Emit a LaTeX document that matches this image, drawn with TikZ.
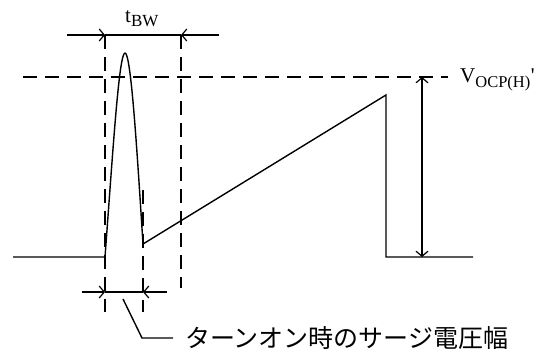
\documentclass[tikz,border=0pt]{standalone}
\usepackage{fontspec}
\setmainfont{Liberation Serif}
\newfontfamily\qfont{Liberation Serif}[Ligatures=ResetAll]
\newfontfamily\jpfont{Noto Sans CJK JP}
\usetikzlibrary{arrows.meta}
\begin{document}
\begin{tikzpicture}[x=1pt,y=-1pt,
  wave/.style={line width=1.4pt,line join=miter},
  dim/.style={line width=1.4pt},
  guide/.style={line width=1.4pt,dash pattern=on 14pt off 8pt},
  tip/.style={-{Straight Barb[length=5pt,width=12pt,line width=1.2pt]}},
  lbl/.style={inner sep=0pt,anchor=base west,font=\fontsize{21}{23}\selectfont}]
\useasboundingbox (0,0) rectangle (549,353);
% key points
\coordinate (b0) at (13,257);
\coordinate (p0) at (105,257);
\coordinate (pk) at (125,53);
\coordinate (p1) at (143,244);
\coordinate (r1) at (386,95);
\coordinate (r2) at (386,257);
\coordinate (b1) at (473,257);
% waveform
\draw[wave] (b0) -- (p0) .. controls (113,150) and (119,53) .. (pk)
  .. controls (131,53) and (137,150) .. (p1) -- (r1) -- (r2) -- (b1);
% guide lines
\coordinate (g1t) at (105,35); \coordinate (g1b) at (105,312);
\coordinate (g2t) at (143,190); \coordinate (g2b) at (143,312);
\coordinate (g3t) at (181,35); \coordinate (g3b) at (181,288);
\coordinate (hl) at (23,77); \coordinate (hr) at (448,77);
\draw[guide] (g1t) -- (g1b);
\draw[guide] (g2t) -- (g2b);
\draw[guide] (g3t) -- (g3b);
\draw[guide] (hl) -- (hr);
% tBW dimension
\coordinate (t0) at (67,35); \coordinate (t1) at (219,35);
\draw[dim,tip] (t0) -- (g1t);
\draw[dim,tip] (t1) -- (g3t);
\draw[dim] (g1t) -- (g3t);
\node[lbl] (tbw) at (125,23) {t\textsubscript{\fontsize{17}{19}\selectfont BW}};
% bottom dimension
\coordinate (s0) at (82,292); \coordinate (s1) at (167,292);
\coordinate (sa) at (105,292); \coordinate (sb) at (143,292);
\draw[dim,tip] (s0) -- (sa);
\draw[dim,tip] (s1) -- (sb);
\draw[dim] (sa) -- (sb);
% leader
\coordinate (l0) at (123,299); \coordinate (l1) at (142,338); \coordinate (l2) at (173,338);
\draw[dim] (l0) -- (l1) -- (l2);
\node[inner sep=0pt,anchor=west,font=\jpfont\fontsize{25}{27}\selectfont] (jp) at (185,338) {ターンオン時のサージ電圧幅};
% VOCP dimension
\coordinate (v0) at (422,77); \coordinate (v1) at (422,257);
\draw[dim,{Straight Barb[length=5pt,width=12pt,line width=1.2pt]}-{Straight Barb[length=5pt,width=12pt,line width=1.2pt]}] (v0) -- (v1);
\node[lbl] (vocp) at (460,83) {V\textsubscript{\fontsize{16.5}{18}\selectfont OCP(H)}{\qfont '}};
\end{tikzpicture}
\end{document}
